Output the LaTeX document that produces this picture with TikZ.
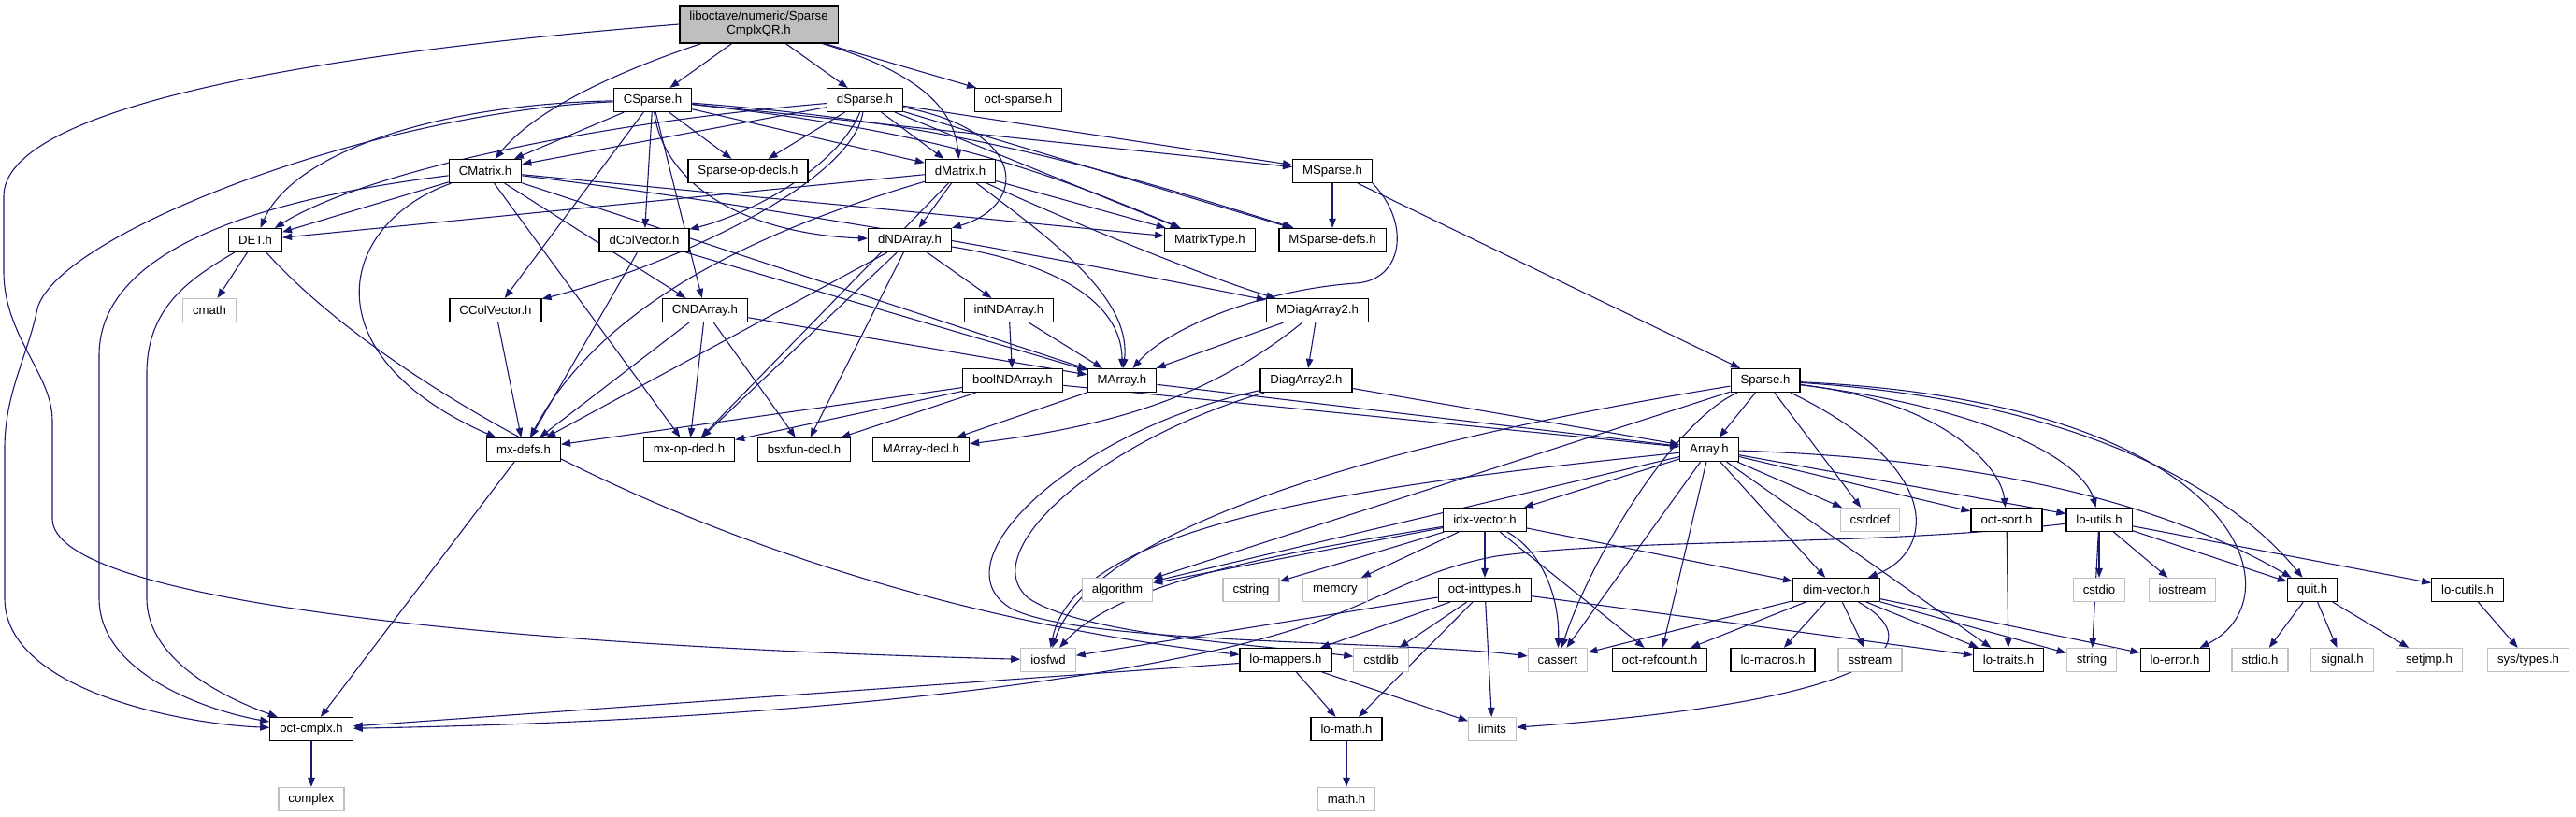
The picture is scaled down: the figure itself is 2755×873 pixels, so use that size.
\documentclass[tikz,border=0pt]{standalone}
\usepackage{fontspec}
\setmainfont{Liberation Sans}
\usetikzlibrary{arrows.meta}
\definecolor{edgeblue}{HTML}{191970}
\definecolor{sysgray}{HTML}{BFBFBF}
\pgfdeclarelayer{bg}
\pgfsetlayers{bg,main}
\begin{document}
\begin{tikzpicture}[x=1pt,y=-1pt,
  box/.style={draw=black, fill=white, line width=1.2pt, minimum height=25pt, inner xsep=10.5pt, inner ysep=0pt, font=\fontsize{13.2}{15}\selectfont},
  sysbox/.style={box, draw=sysgray},
  rootbox/.style={box, fill=sysgray, minimum height=40pt, align=center},
  edge/.style={draw=edgeblue, line width=1.1pt, -{Triangle[length=10pt,width=7.5pt]}}]
\useasboundingbox (0,0) rectangle (2755,873);
% row 0
\node[rootbox] (root) at (811.5,26) {liboctave/numeric/Sparse\\CmplxQR.h};
% row 1
\node[box] (CSparse) at (698,107) {CSparse.h};
\node[box] (dSparse) at (925,107) {dSparse.h};
\node[box] (octsparse) at (1089,107) {oct-sparse.h};
% row 2
\node[box] (CMatrix) at (519,183) {CMatrix.h};
\node[box] (SparseOp) at (800,183) {Sparse-op-decls.h};
\node[box] (dMatrix) at (1027,183) {dMatrix.h};
\node[box] (MSparse) at (1425,183) {MSparse.h};
% row 3
\node[box] (DET) at (273,257) {DET.h};
\node[box] (dColVector) at (689,257) {dColVector.h};
\node[box] (dNDArray) at (973,257) {dNDArray.h};
\node[box] (MatrixType) at (1294,257) {MatrixType.h};
\node[box] (MSparseDefs) at (1425,257) {MSparse-defs.h};
% row 4
\node[sysbox] (cmath) at (224,332) {cmath};
\node[box] (CColVector) at (530,332) {CColVector.h};
\node[box] (CNDArray) at (754,332) {CNDArray.h};
\node[box] (intNDArray) at (1079,332) {intNDArray.h};
\node[box] (MDiagArray2) at (1409,332) {MDiagArray2.h};
% row 5
\node[box] (boolNDArray) at (1083,407) {boolNDArray.h};
\node[box] (MArray) at (1200,407) {MArray.h};
\node[box] (DiagArray2) at (1397,407) {DiagArray2.h};
\node[box] (Sparse) at (1888,407) {Sparse.h};
% row 6
\node[box] (mxdefs) at (560,481) {mx-defs.h};
\node[box] (mxopdecl) at (737,481) {mx-op-decl.h};
\node[box] (bsxfun) at (860,481) {bsxfun-decl.h};
\node[box] (MArraydecl) at (985,481) {MArray-decl.h};
\node[box] (Array) at (1828,481) {Array.h};
% row 7
\node[box] (idxvector) at (1588,556) {idx-vector.h};
\node[sysbox] (cstddef) at (2000,556) {cstddef};
\node[box] (octsort) at (2146,556) {oct-sort.h};
\node[box] (loutils) at (2245,556) {lo-utils.h};
% row 8
\node[sysbox] (algorithm) at (1195,631) {algorithm};
\node[sysbox] (cstring) at (1338,631) {cstring};
\node[sysbox] (memory) at (1428,631) {memory};
\node[box] (octinttypes) at (1588,631) {oct-inttypes.h};
\node[box] (dimvector) at (1964,631) {dim-vector.h};
\node[sysbox] (cstdio) at (2245,631) {cstdio};
\node[sysbox] (iostream) at (2334,631) {iostream};
\node[box] (quit) at (2473,631) {quit.h};
\node[box] (locutils) at (2639,631) {lo-cutils.h};
% row 9
\node[sysbox] (iosfwd) at (1121,706) {iosfwd};
\node[box] (lomappers) at (1375,706) {lo-mappers.h};
\node[sysbox] (cstdlib) at (1477,706) {cstdlib};
\node[sysbox] (cassert) at (1666,706) {cassert};
\node[box] (octrefcount) at (1775,706) {oct-refcount.h};
\node[box] (lomacros) at (1896,706) {lo-macros.h};
\node[sysbox] (sstream) at (2000,706) {sstream};
\node[box] (lotraits) at (2148,706) {lo-traits.h};
\node[sysbox] (string) at (2237,706) {string};
\node[box] (loerror) at (2326,706) {lo-error.h};
\node[sysbox] (stdioh) at (2417,706) {stdio.h};
\node[sysbox] (signalh) at (2505,706) {signal.h};
\node[sysbox] (setjmph) at (2598,706) {setjmp.h};
\node[sysbox] (systypes) at (2704,706) {sys/types.h};
% row 10
\node[box] (octcmplx) at (333,780) {oct-cmplx.h};
\node[box] (lomath) at (1440,780) {lo-math.h};
\node[sysbox] (limits) at (1596,780) {limits};
% row 11
\node[sysbox] (complex) at (333,855) {complex};
\node[sysbox] (mathh) at (1440,855) {math.h};

\begin{pgfonlayer}{bg}
\foreach \a/\b in {root/CSparse, root/dSparse, root/octsparse,
  CSparse/CMatrix, CSparse/dMatrix, CSparse/SparseOp, CSparse/MSparse, CSparse/dColVector, CSparse/CColVector, CSparse/CNDArray,
  dSparse/CMatrix, dSparse/dMatrix, dSparse/SparseOp, dSparse/MSparse, dSparse/MSparseDefs, dSparse/MatrixType,
  CMatrix/DET, CMatrix/MatrixType, CMatrix/MArray, CMatrix/CNDArray, CMatrix/mxopdecl,
  dMatrix/DET, dMatrix/MatrixType, dMatrix/dNDArray, dMatrix/mxopdecl,
  DET/cmath, dColVector/MArray, dColVector/mxdefs, CColVector/mxdefs,
  dNDArray/intNDArray, dNDArray/mxdefs, dNDArray/mxopdecl, dNDArray/bsxfun,
  CNDArray/MArray, CNDArray/mxdefs, CNDArray/mxopdecl, CNDArray/bsxfun,
  intNDArray/boolNDArray, intNDArray/MArray,
  boolNDArray/Array, boolNDArray/mxdefs, boolNDArray/mxopdecl, boolNDArray/bsxfun,
  MArray/Array, MArray/MArraydecl, MDiagArray2/DiagArray2, MDiagArray2/MArray, DiagArray2/Array,
  MSparse/MSparseDefs, MSparse/Sparse, mxdefs/octcmplx,
  Sparse/Array, Sparse/cstddef, Sparse/algorithm,
  Array/cassert, Array/octrefcount, Array/dimvector, Array/lotraits, Array/cstddef, Array/octsort, Array/loutils, Array/algorithm, Array/idxvector,
  idxvector/algorithm, idxvector/cstring, idxvector/memory, idxvector/octinttypes, idxvector/octrefcount, idxvector/dimvector,
  octinttypes/lomappers, octinttypes/cstdlib, octinttypes/lomath, octinttypes/limits, octinttypes/lotraits, octinttypes/iosfwd,
  dimvector/cassert, dimvector/octrefcount, dimvector/lomacros, dimvector/sstream, dimvector/lotraits, dimvector/string, dimvector/loerror,
  lomappers/lomath, lomappers/limits, lomappers/octcmplx, lomath/mathh, octsort/lotraits,
  loutils/string, loutils/cstdio, loutils/iostream, loutils/quit, loutils/locutils,
  quit/stdioh, quit/signalh, quit/setjmph, locutils/systypes, octcmplx/complex}
  \draw[edge] (\a) -- (\b);
% curved edges
\draw[edge] (root) .. controls (650,80) and (570,120) .. (CMatrix);
\draw[edge] (root) .. controls (990,80) and (1020,120) .. (dMatrix);
\draw[edge] (root.west) .. controls (300,60) and (4,120) .. (4,210) -- (4,290) .. controls (4,360) and (56,400) .. (56,450) -- (56,555) .. controls (56,640) and (500,690) .. (iosfwd);
\draw[edge] (CSparse) .. controls (400,120) and (62,250) .. (40,330) .. controls (30,380) and (5,420) .. (5,480) -- (5,640) .. controls (5,740) and (200,775) .. (octcmplx);
\draw[edge] (CMatrix) .. controls (300,210) and (106,260) .. (106,380) -- (106,640) .. controls (106,720) and (220,760) .. (octcmplx);
\draw[edge] (DET) .. controls (200,300) and (157,330) .. (157,400) -- (157,640) .. controls (157,710) and (250,750) .. (octcmplx);
\draw[edge] (DET) .. controls (420,420) and (800,640) .. (lomappers);
\draw[edge] (CSparse) .. controls (450,112) and (310,170) .. (DET);
\draw[edge] (dSparse) .. controls (600,135) and (380,190) .. (DET);
\draw[edge] (CSparse) .. controls (1000,130) and (1150,170) .. (MSparseDefs);
\draw[edge] (CSparse) .. controls (1000,140) and (1110,180) .. (MatrixType);
\draw[edge] (CSparse) .. controls (710,200) and (800,250) .. (dNDArray);
\draw[edge] (dSparse) .. controls (1100,140) and (1100,220) .. (dNDArray);
\draw[edge] (dSparse) .. controls (895,180) and (800,230) .. (dColVector);
\draw[edge] (dSparse) .. controls (910,200) and (700,290) .. (CColVector);
\draw[edge] (CMatrix) .. controls (900,230) and (1250,300) .. (MDiagArray2);
\draw[edge] (CMatrix) .. controls (360,240) and (330,380) .. (mxdefs);
\draw[edge] (dMatrix) .. controls (1150,240) and (1300,300) .. (MDiagArray2);
\draw[edge] (dMatrix) .. controls (1130,260) and (1210,320) .. (MArray);
\draw[edge] (dMatrix) .. controls (800,250) and (640,330) .. (mxdefs);
\draw[edge] (dNDArray) .. controls (1120,280) and (1200,320) .. (MArray);
\draw[edge] (MDiagArray2) .. controls (1300,420) and (1200,455) .. (MArraydecl);
\draw[edge] (MSparse.south east) .. controls (1510,240) and (1500,300) .. (1450,303) .. controls (1350,310) and (1250,350) .. (MArray);
\draw[edge] (DiagArray2) .. controls (1150,460) and (1000,600) .. (1080,650) .. controls (1150,690) and (1500,685) .. (cassert);
\draw[edge] (DiagArray2) .. controls (1180,470) and (1040,590) .. (1100,640) .. controls (1160,680) and (1350,690) .. (cstdlib);
\draw[edge] (Sparse) .. controls (1500,470) and (1170,560) .. (iosfwd);
\draw[edge] (Array) .. controls (1450,520) and (1150,560) .. (iosfwd);
\draw[edge] (idxvector) .. controls (1380,590) and (1200,620) .. (iosfwd);
\draw[edge] (Sparse) .. controls (1790,450) and (1700,600) .. (cassert);
\draw[edge] (Sparse) .. controls (2080,500) and (2070,590) .. (dimvector);
\draw[edge] (Sparse) .. controls (2400,430) and (2460,640) .. (loerror);
\draw[edge] (Sparse) .. controls (2080,430) and (2140,500) .. (octsort);
\draw[edge] (Sparse) .. controls (2150,440) and (2230,500) .. (loutils);
\draw[edge] (Sparse) .. controls (2250,430) and (2400,540) .. (quit);
\draw[edge] (Array) .. controls (2100,490) and (2300,530) .. (quit);
\draw[edge] (idxvector) .. controls (1650,590) and (1668,640) .. (cassert);
\draw[edge] (dimvector) .. controls (2070,690) and (2010,750) .. (limits);
\draw[edge] (loutils) .. controls (2000,585) and (1750,575) .. (1600,595) .. controls (1520,610) and (1480,640) .. (1400,668) .. controls (1250,720) and (900,770) .. (octcmplx);
\end{pgfonlayer}
\end{tikzpicture}
\end{document}
